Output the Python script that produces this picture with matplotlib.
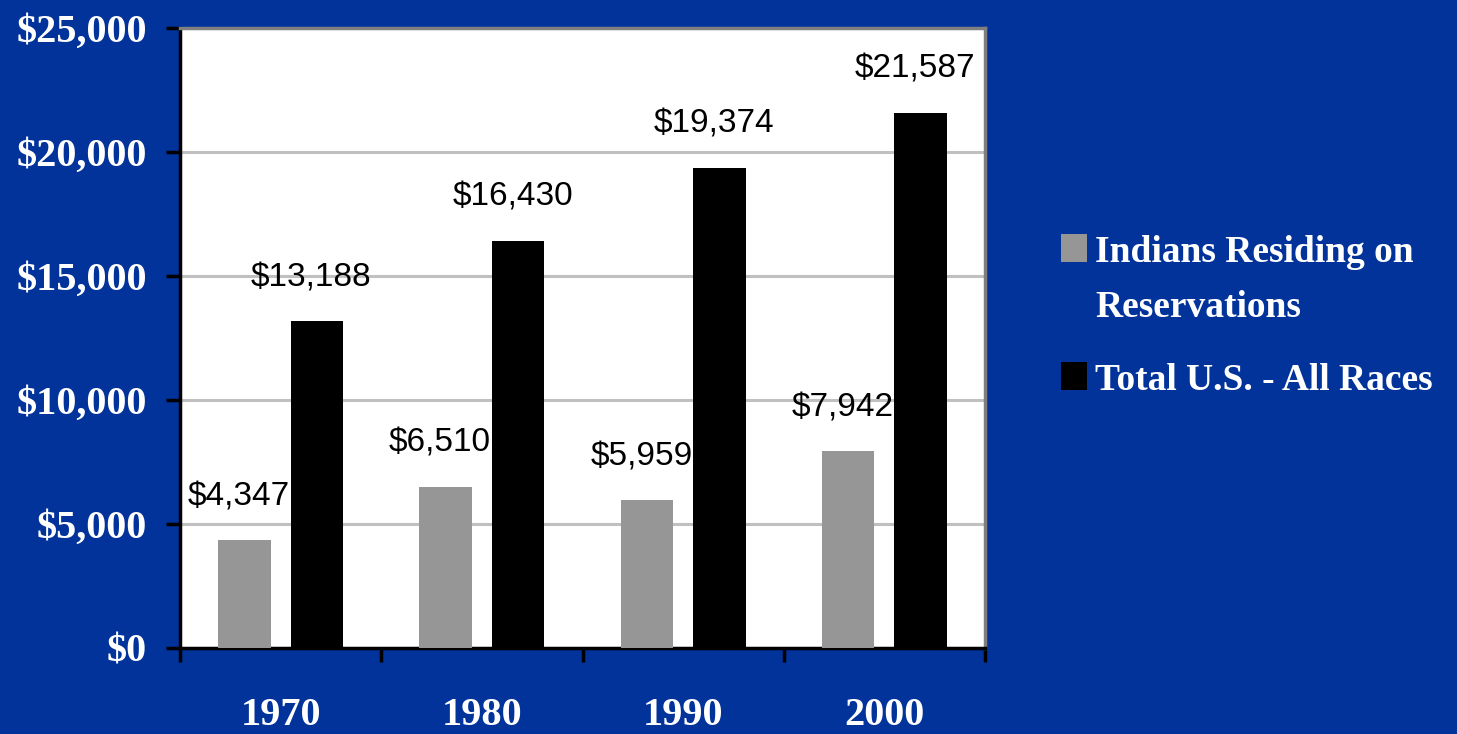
import matplotlib.pyplot as plt
from matplotlib.patches import Rectangle
import numpy as np

years = ['1970', '1980', '1990', '2000']
reservation = [4347, 6510, 5959, 7942]
total_us = [13188, 16430, 19374, 21587]
series_names = [['Indians Residing on', 'Reservations'], ['Total U.S. - All Races']]
y_ticks = [0, 5000, 10000, 15000, 20000, 25000]

bg = '#01339a'
gray = '#969696'
serif = ['Liberation Serif', 'DejaVu Serif']
sans = ['Liberation Sans', 'DejaVu Sans']

fig = plt.figure(figsize=(14.57, 7.34), dpi=100, facecolor=bg)
ax = fig.add_axes([180 / 1457, 1 - 648 / 734, 805 / 1457, 620 / 734])
ax.set_facecolor('white')

x = np.arange(len(years))
w = 0.26
b1 = ax.bar(x - 0.18, reservation, w, color=gray, zorder=3)
b2 = ax.bar(x + 0.18, total_us, w, color='black', zorder=3)

for bars, vals in ((b1, reservation), (b2, total_us)):
    for r, v in zip(bars, vals):
        ax.annotate(f'${v:,}', (r.get_x() + r.get_width() / 2, v),
                    xytext=(-4, 25), textcoords='offset points',
                    ha='center', va='baseline', fontsize=24,
                    family=sans, color='black', zorder=4)

ax.set_xlim(-0.5, 3.5)
ax.set_ylim(0, 25000)
ax.set_yticks(y_ticks)
ax.set_yticklabels([f'${v:,}' for v in y_ticks], family=serif,
                   fontweight='bold', fontsize=29, color='white')
ax.yaxis.grid(True, color='#c0c0c0', linewidth=2.2, zorder=0)
ax.tick_params(axis='y', length=10, width=2.5, color='black', pad=14)

ax.set_xticks(x)
ax.set_xticklabels(years, family=serif, fontweight='bold', fontsize=29,
                   color='white')
ax.set_xticks(np.arange(-0.5, 4, 1), minor=True)
ax.tick_params(axis='x', which='major', length=0, pad=35)
ax.tick_params(axis='x', which='minor', length=10, width=2.5, color='black')

for s in ('left', 'bottom'):
    ax.spines[s].set_color('black')
    ax.spines[s].set_linewidth(2.5)
for s in ('top', 'right'):
    ax.spines[s].set_color('#808080')
    ax.spines[s].set_linewidth(2.5)

# legend drawn by hand so the swatch sits on the first text line
px = lambda xp, yp: (xp / 1457, 1 - yp / 734)
for (sx, sy), col, lines in (((1061, 262), gray, series_names[0]),
                             ((1061, 390), 'black', series_names[1])):
    fig.add_artist(Rectangle(px(sx, sy), 26 / 1457, 28 / 734,
                             transform=fig.transFigure, facecolor=col,
                             edgecolor='none'))
    for k, line in enumerate(lines):
        fig.text(*px(1095, sy + 55 * k), line, family=serif,
                 fontweight='bold', fontsize=27, color='white',
                 va='baseline')

fig.savefig('out.png', dpi=100, facecolor=bg)
